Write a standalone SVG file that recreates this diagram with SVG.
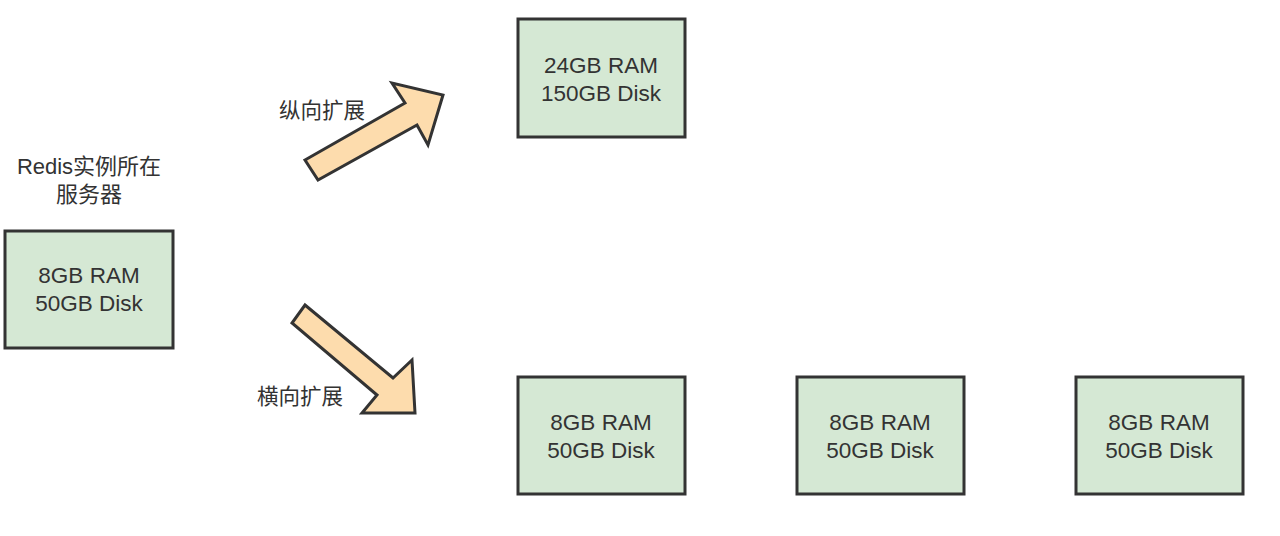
<svg xmlns="http://www.w3.org/2000/svg" width="1280" height="536" viewBox="0 0 1280 536">
<style>
.box{fill:#d5e8d4;stroke:#333333;stroke-width:3}
.arrow{fill:#fddcad;stroke:#333333;stroke-width:3;stroke-linejoin:miter}
text{font-family:"Liberation Sans","Noto Sans CJK SC",sans-serif;font-size:22.5px;fill:#333333;text-anchor:middle}
.lbl{font-size:21.5px}
.ttl{font-size:22px}
</style>
<rect width="1280" height="536" fill="#ffffff"/>
<g id="connectors">
<polygon class="arrow" points="305,160 405,103 392,83 443,95 428,145 417,125 318,180"/>
<polygon class="arrow" points="305,305 393,378 412,360 415,413 362,413 377,395 292,323"/>
</g>
<g id="label-vertical"><text class="lbl" x="322" y="118">纵向扩展</text></g>
<g id="label-horizontal"><text class="lbl" x="300" y="404">横向扩展</text></g>
<g id="title"><text class="ttl" x="89" y="174">Redis实例所在</text><text class="ttl" x="89" y="202">服务器</text></g>
<g id="node-origin"><rect class="box" x="5" y="231" width="168" height="117"/><text x="89" y="283">8GB RAM</text><text x="89" y="311">50GB Disk</text></g>
<g id="node-vertical"><rect class="box" x="518" y="19" width="167" height="118"/><text x="601" y="73">24GB RAM</text><text x="601" y="101">150GB Disk</text></g>
<g id="node-h1"><rect class="box" x="518" y="377" width="167" height="117"/><text x="601" y="430">8GB RAM</text><text x="601" y="458">50GB Disk</text></g>
<g id="node-h2"><rect class="box" x="797" y="377" width="167" height="117"/><text x="880" y="430">8GB RAM</text><text x="880" y="458">50GB Disk</text></g>
<g id="node-h3"><rect class="box" x="1076" y="377" width="167" height="117"/><text x="1159" y="430">8GB RAM</text><text x="1159" y="458">50GB Disk</text></g>
</svg>
